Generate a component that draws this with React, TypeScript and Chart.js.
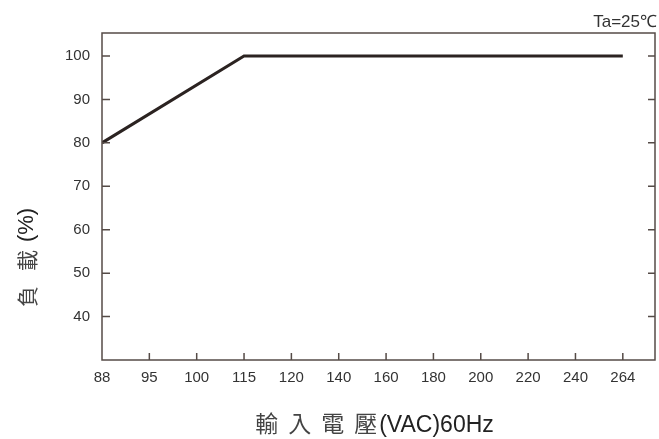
import React, { useEffect, useRef } from "react";
import { Chart, registerables } from "chart.js";

Chart.register(...registerables);

// ---- data ----
const voltageLabels = ["88", "95", "100", "115", "120", "140", "160", "180", "200", "220", "240", "264"];
const loadValues: (number | null)[] = [80, null, null, 100, 100, 100, 100, 100, 100, 100, 100, 100];
const yTickValues = [40, 50, 60, 70, 80, 90, 100];
const yMin = 30;
const yMax = 105.3;
const xMaxIndex = 11.68;

const xTitleCjk = ["輸", "入", "電", "壓"];
const xTitleLatin = "(VAC)60Hz";
const yTitleCjk = ["負", "載"];
const yTitleLatin = "(%)";
const noteText = "Ta=25℃";

const AXIS_COLOR = "#554b47";
const LINE_COLOR = "#2b2321";
const TEXT_COLOR = "#333333";
const LATIN = '"Liberation Sans", Arial, sans-serif';
const CJK = '"Noto Sans CJK TC", "Noto Sans CJK SC", sans-serif';

const decorPlugin = {
  id: "decor",
  afterDraw(chart: any) {
    const { ctx, chartArea: a, scales } = chart;
    ctx.save();
    // frame
    ctx.strokeStyle = AXIS_COLOR;
    ctx.lineWidth = 1.5;
    ctx.strokeRect(a.left, a.top, a.right - a.left, a.bottom - a.top);
    // inward ticks
    ctx.beginPath();
    scales.x.ticks.forEach((t: any, i: number) => {
      if (i === 0) return;
      const px = scales.x.getPixelForValue(t.value);
      ctx.moveTo(px, a.bottom);
      ctx.lineTo(px, a.bottom - 7);
    });
    scales.y.ticks.forEach((t: any) => {
      const py = scales.y.getPixelForValue(t.value);
      ctx.moveTo(a.left, py);
      ctx.lineTo(a.left + 8, py);
      ctx.moveTo(a.right, py);
      ctx.lineTo(a.right - 7, py);
    });
    ctx.stroke();

    // x title
    const xCjkFont = `23px ${CJK}`;
    const xLatFont = `23px ${LATIN}`;
    const cjkGap = 10;
    ctx.font = xCjkFont;
    const cw = xTitleCjk.map((c) => ctx.measureText(c).width);
    ctx.font = xLatFont;
    const lw = ctx.measureText(xTitleLatin).width;
    const total = cw.reduce((s, w) => s + w, 0) + cjkGap * (xTitleCjk.length - 1) + 2 + lw;
    const cx = (a.left + a.right) / 2 - 4;
    let x = cx - total / 2;
    const by = 432;
    ctx.textBaseline = "alphabetic";
    ctx.textAlign = "left";
    ctx.fillStyle = "#444444";
    ctx.font = xCjkFont;
    xTitleCjk.forEach((c, i) => {
      ctx.fillText(c, x, by);
      x += cw[i] + (i < xTitleCjk.length - 1 ? cjkGap : 2);
    });
    ctx.fillStyle = "#222222";
    ctx.font = xLatFont;
    ctx.fillText(xTitleLatin, x, by);

    // y title (rotated)
    ctx.save();
    ctx.translate(27, 257.5);
    ctx.rotate(-Math.PI / 2);
    ctx.textBaseline = "middle";
    const yCjkFont = `21px ${CJK}`;
    const yLatFont = `22px ${LATIN}`;
    ctx.font = yCjkFont;
    const ycw = yTitleCjk.map((c) => ctx.measureText(c).width);
    ctx.font = yLatFont;
    const ylw = ctx.measureText(yTitleLatin).width;
    const gaps = [15, 8];
    const ytotal = ycw[0] + gaps[0] + ycw[1] + gaps[1] + ylw;
    let yx = -ytotal / 2;
    ctx.fillStyle = "#444444";
    ctx.font = yCjkFont;
    yTitleCjk.forEach((c, i) => {
      ctx.fillText(c, yx, 0);
      yx += ycw[i] + gaps[i];
    });
    ctx.fillStyle = "#222222";
    ctx.font = yLatFont;
    ctx.fillText(yTitleLatin, yx, 0);
    ctx.restore();

    // note
    ctx.fillStyle = TEXT_COLOR;
    ctx.font = `17px ${LATIN}`;
    ctx.textAlign = "right";
    ctx.textBaseline = "alphabetic";
    ctx.fillText(noteText, 657, 27);
    ctx.restore();
  },
};

export default function App() {
  const ref = useRef<HTMLCanvasElement | null>(null);
  useEffect(() => {
    if (!ref.current) return;
    const chart = new Chart(ref.current, {
      type: "line",
      data: {
        datasets: [
          {
            data: voltageLabels.map((_, i) => ({ x: i, y: loadValues[i] })) as any,
            borderColor: LINE_COLOR,
            borderWidth: 3,
            pointRadius: 0,
            tension: 0,
            spanGaps: true,
            fill: false,
          },
        ],
      },
      options: {
        animation: false,
        responsive: false,
        devicePixelRatio: 1,
        layout: { padding: { top: 33, right: 4, left: 0, bottom: 0 } },
        plugins: { legend: { display: false }, tooltip: { enabled: false }, title: { display: false } },
        scales: {
          x: {
            type: "linear",
            min: 0,
            max: xMaxIndex,
            grid: { display: false, drawTicks: false },
            border: { display: false },
            afterBuildTicks: (s: any) => {
              s.ticks = voltageLabels.map((_, i) => ({ value: i }));
            },
            afterFit: (s: any) => {
              s.height = 79;
            },
            ticks: {
              autoSkip: false,
              maxRotation: 0,
              padding: 9,
              color: TEXT_COLOR,
              font: { family: LATIN, size: 15 },
              callback: (v: any) => voltageLabels[Math.round(Number(v))] ?? "",
            },
          },
          y: {
            type: "linear",
            min: yMin,
            max: yMax,
            grid: { display: false, drawTicks: false },
            border: { display: false },
            afterBuildTicks: (s: any) => {
              s.ticks = yTickValues.map((v) => ({ value: v }));
            },
            afterFit: (s: any) => {
              s.width = 102;
            },
            ticks: {
              padding: 12,
              color: TEXT_COLOR,
              font: { family: LATIN, size: 15 },
              callback: (v: any) => String(v),
            },
          },
        },
      },
      plugins: [decorPlugin],
    });
    return () => chart.destroy();
  }, []);
  return (
    <div style={{ position: "fixed", left: 0, top: 0, width: 659, height: 439, background: "#ffffff" }}>
      <canvas ref={ref} width={659} height={439} style={{ display: "block" }} />
    </div>
  );
}
